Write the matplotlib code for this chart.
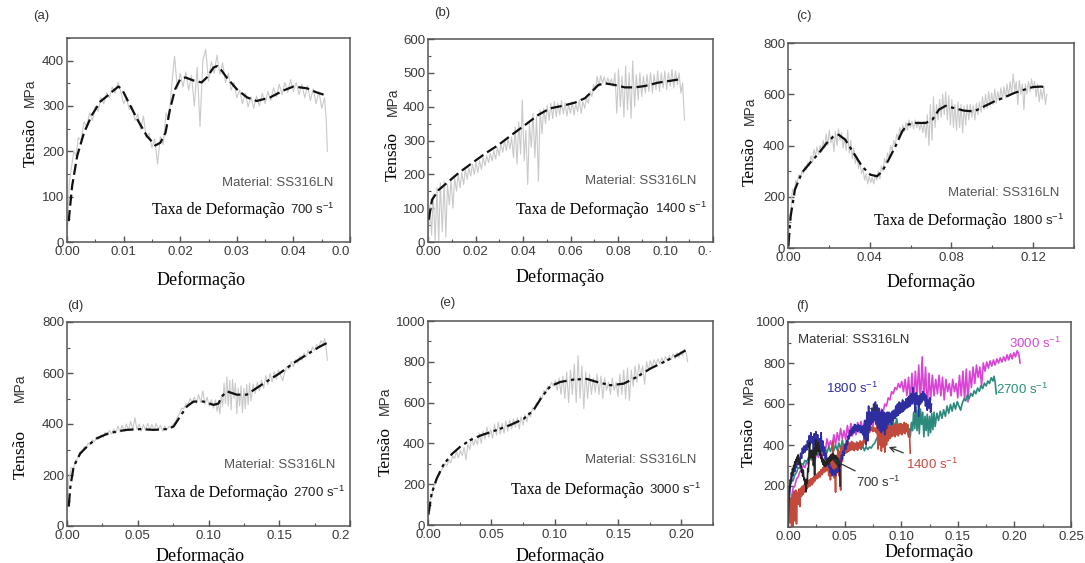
import matplotlib
matplotlib.use("Agg")
import matplotlib.pyplot as plt
from matplotlib.ticker import MultipleLocator, FixedLocator

SANS = "Liberation Sans"
SERIF = "Liberation Serif"
plt.rcParams['font.family'] = SANS
plt.rcParams['mathtext.fontset'] = 'custom'
plt.rcParams['mathtext.rm'] = SANS
plt.rcParams['mathtext.it'] = SANS
plt.rcParams['mathtext.default'] = 'regular'

W, H = 1085, 563

# ---- raw (noisy) stress-strain curves: (strain, MPa)
raw_700 = [(0.0000, 0), (0.0004, 130), (0.0008, 165), (0.0012, 200), (0.0016, 190), (0.0020, 230),
           (0.0025, 225), (0.0030, 265), (0.0035, 255), (0.0040, 285), (0.0045, 268), (0.0050, 300),
           (0.0055, 288), (0.0060, 318), (0.0065, 305), (0.0070, 330), (0.0075, 318), (0.0080, 342),
           (0.0085, 328), (0.0090, 352), (0.0095, 332), (0.0100, 305), (0.0105, 318), (0.0110, 292),
           (0.0115, 300), (0.0120, 268), (0.0125, 282), (0.0130, 248), (0.0135, 278), (0.0140, 230),
           (0.0145, 240), (0.0150, 208), (0.0155, 228), (0.0160, 172), (0.0165, 232), (0.0170, 215),
           (0.0175, 285), (0.0180, 270), (0.0185, 345), (0.0190, 410), (0.0195, 338), (0.0200, 372),
           (0.0205, 342), (0.0210, 375), (0.0215, 335), (0.0220, 368), (0.0225, 300), (0.0230, 385),
           (0.0235, 255), (0.0240, 400), (0.0245, 425), (0.0250, 355), (0.0255, 398), (0.0260, 372),
           (0.0265, 412), (0.0270, 370), (0.0275, 395), (0.0280, 352), (0.0285, 372), (0.0290, 335),
           (0.0295, 352), (0.0300, 318), (0.0305, 335), (0.0310, 305), (0.0315, 328), (0.0320, 298),
           (0.0325, 320), (0.0330, 295), (0.0335, 322), (0.0340, 300), (0.0345, 328), (0.0350, 305),
           (0.0355, 332), (0.0360, 312), (0.0365, 340), (0.0370, 320), (0.0375, 348), (0.0380, 325),
           (0.0385, 352), (0.0390, 330), (0.0395, 358), (0.0400, 332), (0.0405, 352), (0.0410, 325),
           (0.0415, 348), (0.0420, 318), (0.0425, 345), (0.0430, 312), (0.0435, 338), (0.0440, 305),
           (0.0445, 332), (0.0450, 295), (0.0455, 318), (0.0458, 270), (0.0460, 200)]

raw_1400 = [(0.0000, 0), (0.0008, 110), (0.0015, 20), (0.0022, 140), (0.0030, 5), (0.0038, 160),
            (0.0045, 0), (0.0052, 175), (0.0060, 30), (0.0068, 180), (0.0075, 15), (0.0082, 170),
            (0.0090, 110), (0.0097, 185), (0.0105, 100), (0.0112, 190), (0.0120, 150), (0.0127, 200),
            (0.0135, 160), (0.0142, 205), (0.0150, 170), (0.0157, 215), (0.0165, 185), (0.0172, 220),
            (0.0180, 195), (0.0187, 230), (0.0195, 200), (0.0202, 235), (0.0210, 205), (0.0217, 240),
            (0.0225, 215), (0.0232, 250), (0.0240, 225), (0.0247, 255), (0.0255, 235), (0.0262, 262),
            (0.0270, 240), (0.0277, 270), (0.0285, 245), (0.0292, 280), (0.0300, 255), (0.0307, 290),
            (0.0315, 265), (0.0322, 300), (0.0330, 270), (0.0337, 305), (0.0345, 275), (0.0352, 310),
            (0.0360, 250), (0.0367, 340), (0.0375, 230), (0.0382, 355), (0.0390, 260), (0.0397, 420),
            (0.0405, 240), (0.0412, 330), (0.0420, 170), (0.0427, 350), (0.0435, 280), (0.0442, 380),
            (0.0450, 250), (0.0457, 370), (0.0465, 180), (0.0472, 390), (0.0480, 320), (0.0487, 395),
            (0.0495, 350), (0.0502, 405), (0.0510, 360), (0.0517, 410), (0.0525, 365), (0.0532, 415),
            (0.0540, 370), (0.0547, 410), (0.0555, 375), (0.0562, 418), (0.0570, 378), (0.0577, 412),
            (0.0585, 372), (0.0592, 408), (0.0600, 380), (0.0607, 415), (0.0615, 375), (0.0622, 410),
            (0.0630, 385), (0.0637, 420), (0.0645, 380), (0.0652, 415), (0.0660, 395), (0.0667, 425),
            (0.0675, 410), (0.0682, 445), (0.0690, 430), (0.0697, 465), (0.0705, 450), (0.0712, 490),
            (0.0720, 460), (0.0727, 492), (0.0735, 470), (0.0742, 488), (0.0750, 465), (0.0757, 485),
            (0.0765, 468), (0.0772, 482), (0.0780, 460), (0.0787, 500), (0.0795, 380), (0.0802, 510),
            (0.0810, 400), (0.0817, 490), (0.0825, 370), (0.0832, 520), (0.0840, 390), (0.0847, 500),
            (0.0855, 365), (0.0862, 535), (0.0870, 400), (0.0877, 495), (0.0885, 420), (0.0892, 500),
            (0.0900, 430), (0.0907, 490), (0.0915, 440), (0.0922, 495), (0.0930, 445), (0.0937, 500),
            (0.0945, 440), (0.0952, 495), (0.0960, 450), (0.0967, 505), (0.0975, 445), (0.0982, 500),
            (0.0990, 455), (0.0997, 505), (0.1005, 450), (0.1012, 500), (0.1020, 460), (0.1027, 510),
            (0.1035, 455), (0.1042, 505), (0.1050, 465), (0.1057, 500), (0.1065, 440), (0.1072, 470),
            (0.1080, 360)]

raw_1800 = [(0.0000, 0), (0.0008, 120), (0.0015, 160), (0.0022, 230), (0.0030, 215), (0.0038, 265),
            (0.0045, 250), (0.0052, 285), (0.0060, 270), (0.0068, 300), (0.0075, 290), (0.0082, 318),
            (0.0090, 305), (0.0097, 335), (0.0105, 320), (0.0112, 360), (0.0120, 335), (0.0127, 385),
            (0.0135, 360), (0.0142, 395), (0.0150, 365), (0.0157, 400), (0.0165, 375), (0.0172, 420),
            (0.0180, 390), (0.0187, 445), (0.0195, 400), (0.0202, 460), (0.0210, 410), (0.0217, 440),
            (0.0225, 375), (0.0232, 455), (0.0240, 400), (0.0247, 465), (0.0255, 420), (0.0262, 450),
            (0.0270, 390), (0.0277, 430), (0.0285, 380), (0.0292, 460), (0.0300, 370), (0.0307, 420),
            (0.0315, 350), (0.0322, 390), (0.0330, 330), (0.0337, 360), (0.0345, 310), (0.0352, 335),
            (0.0360, 290), (0.0367, 310), (0.0375, 265), (0.0382, 290), (0.0390, 250), (0.0397, 280),
            (0.0405, 255), (0.0412, 275), (0.0420, 250), (0.0427, 285), (0.0435, 265), (0.0442, 300),
            (0.0450, 270), (0.0457, 320), (0.0465, 300), (0.0472, 350), (0.0480, 330), (0.0487, 370),
            (0.0495, 350), (0.0502, 400), (0.0510, 380), (0.0517, 420), (0.0525, 400), (0.0532, 445),
            (0.0540, 430), (0.0547, 470), (0.0555, 445), (0.0562, 480), (0.0570, 455), (0.0577, 490),
            (0.0585, 460), (0.0592, 500), (0.0600, 470), (0.0607, 495), (0.0615, 465), (0.0622, 500),
            (0.0630, 470), (0.0637, 495), (0.0645, 460), (0.0652, 490), (0.0660, 450), (0.0667, 495),
            (0.0675, 430), (0.0682, 520), (0.0690, 400), (0.0697, 560), (0.0705, 420), (0.0712, 590),
            (0.0720, 470), (0.0727, 560), (0.0735, 500), (0.0742, 580), (0.0750, 510), (0.0757, 600),
            (0.0765, 520), (0.0772, 610), (0.0780, 500), (0.0787, 595), (0.0795, 480), (0.0802, 580),
            (0.0810, 470), (0.0817, 560), (0.0825, 460), (0.0832, 570), (0.0840, 470), (0.0847, 560),
            (0.0855, 450), (0.0862, 555), (0.0870, 480), (0.0877, 560), (0.0885, 500), (0.0892, 560),
            (0.0900, 510), (0.0907, 555), (0.0915, 500), (0.0922, 565), (0.0930, 520), (0.0937, 570),
            (0.0945, 530), (0.0952, 590), (0.0960, 540), (0.0967, 600), (0.0975, 545), (0.0982, 610),
            (0.0990, 555), (0.0997, 605), (0.1005, 560), (0.1012, 620), (0.1020, 565), (0.1027, 610),
            (0.1035, 575), (0.1042, 625), (0.1050, 580), (0.1057, 630), (0.1065, 585), (0.1072, 640),
            (0.1080, 590), (0.1087, 650), (0.1095, 600), (0.1102, 680), (0.1110, 610), (0.1117, 650),
            (0.1125, 560), (0.1132, 655), (0.1140, 600), (0.1147, 640), (0.1155, 540), (0.1162, 640),
            (0.1170, 600), (0.1177, 650), (0.1185, 610), (0.1192, 660), (0.1200, 620), (0.1207, 650),
            (0.1215, 590), (0.1222, 640), (0.1230, 570), (0.1237, 620), (0.1245, 580), (0.1252, 630),
            (0.1260, 560), (0.1267, 600)]

raw_2700 = [(0.0000, 60), (0.0010, 170), (0.0020, 200), (0.0030, 230), (0.0045, 225), (0.0060, 255),
            (0.0075, 265), (0.0090, 290), (0.0105, 285), (0.0120, 310), (0.0135, 305), (0.0150, 325),
            (0.0165, 318), (0.0180, 338), (0.0195, 330), (0.0210, 350), (0.0225, 340), (0.0240, 358),
            (0.0255, 348), (0.0270, 368), (0.0285, 355), (0.0300, 375), (0.0315, 360), (0.0330, 380),
            (0.0345, 362), (0.0360, 392), (0.0375, 368), (0.0390, 395), (0.0405, 372), (0.0420, 400),
            (0.0435, 375), (0.0450, 410), (0.0465, 378), (0.0480, 425), (0.0495, 378), (0.0510, 400),
            (0.0525, 372), (0.0540, 398), (0.0555, 376), (0.0570, 402), (0.0585, 378), (0.0600, 398),
            (0.0615, 375), (0.0630, 402), (0.0645, 378), (0.0660, 395), (0.0675, 372), (0.0690, 392),
            (0.0705, 378), (0.0720, 390), (0.0735, 385), (0.0750, 400), (0.0765, 408), (0.0780, 428),
            (0.0795, 440), (0.0810, 462), (0.0825, 460), (0.0840, 480), (0.0855, 478), (0.0870, 500),
            (0.0885, 485), (0.0900, 505), (0.0915, 482), (0.0930, 515), (0.0945, 485), (0.0960, 530),
            (0.0975, 478), (0.0990, 505), (0.1005, 470), (0.1020, 495), (0.1035, 462), (0.1050, 495),
            (0.1060, 450), (0.1070, 480), (0.1080, 440), (0.1090, 510), (0.1100, 470), (0.1110, 560),
            (0.1120, 480), (0.1130, 585), (0.1140, 470), (0.1150, 570), (0.1160, 455), (0.1170, 575),
            (0.1180, 500), (0.1190, 560), (0.1200, 440), (0.1210, 540), (0.1220, 470), (0.1230, 550),
            (0.1240, 445), (0.1250, 540), (0.1260, 460), (0.1270, 555), (0.1280, 475), (0.1290, 560),
            (0.1300, 490), (0.1315, 555), (0.1330, 520), (0.1345, 565), (0.1360, 530), (0.1375, 572),
            (0.1390, 540), (0.1405, 590), (0.1420, 555), (0.1435, 598), (0.1450, 565), (0.1465, 605),
            (0.1480, 575), (0.1495, 612), (0.1510, 590), (0.1525, 570), (0.1540, 605), (0.1555, 625),
            (0.1570, 615), (0.1585, 645), (0.1600, 625), (0.1615, 652), (0.1630, 638), (0.1645, 665),
            (0.1660, 650), (0.1675, 678), (0.1690, 662), (0.1705, 690), (0.1720, 675), (0.1735, 702),
            (0.1750, 688), (0.1765, 712), (0.1780, 700), (0.1795, 728), (0.1810, 712), (0.1820, 735),
            (0.1830, 705), (0.1840, 650)]

raw_3000 = [(0.0000, 30), (0.0015, 120), (0.0030, 140), (0.0045, 190), (0.0060, 200), (0.0075, 235),
            (0.0090, 245), (0.0105, 270), (0.0120, 280), (0.0135, 300), (0.0150, 290), (0.0165, 320),
            (0.0180, 305), (0.0195, 340), (0.0210, 325), (0.0225, 360), (0.0240, 330), (0.0255, 365),
            (0.0270, 340), (0.0285, 380), (0.0300, 320), (0.0315, 395), (0.0330, 370), (0.0345, 430),
            (0.0360, 390), (0.0375, 420), (0.0390, 395), (0.0405, 450), (0.0420, 400), (0.0435, 460),
            (0.0450, 420), (0.0465, 480), (0.0480, 430), (0.0495, 470), (0.0510, 425), (0.0525, 495),
            (0.0540, 440), (0.0555, 505), (0.0570, 445), (0.0585, 500), (0.0600, 450), (0.0615, 510),
            (0.0630, 460), (0.0645, 515), (0.0660, 470), (0.0675, 520), (0.0690, 480), (0.0705, 525),
            (0.0720, 470), (0.0735, 530), (0.0750, 490), (0.0765, 540), (0.0780, 505), (0.0795, 550),
            (0.0810, 530), (0.0825, 575), (0.0840, 560), (0.0855, 600), (0.0870, 590), (0.0885, 630),
            (0.0900, 620), (0.0915, 660), (0.0930, 650), (0.0945, 680), (0.0960, 670), (0.0975, 700),
            (0.0990, 680), (0.1005, 710), (0.1020, 660), (0.1035, 720), (0.1050, 640), (0.1065, 730),
            (0.1080, 620), (0.1095, 750), (0.1110, 600), (0.1125, 760), (0.1140, 640), (0.1155, 790),
            (0.1170, 600), (0.1185, 830), (0.1200, 620), (0.1215, 780), (0.1230, 570), (0.1245, 750),
            (0.1260, 620), (0.1275, 740), (0.1290, 640), (0.1305, 720), (0.1320, 650), (0.1335, 740),
            (0.1350, 640), (0.1365, 730), (0.1380, 620), (0.1395, 720), (0.1410, 660), (0.1425, 700),
            (0.1440, 640), (0.1455, 720), (0.1470, 660), (0.1485, 700), (0.1500, 630), (0.1515, 740),
            (0.1530, 640), (0.1545, 760), (0.1560, 620), (0.1575, 770), (0.1590, 610), (0.1605, 760),
            (0.1620, 680), (0.1635, 780), (0.1650, 700), (0.1665, 790), (0.1680, 730), (0.1695, 780),
            (0.1710, 690), (0.1725, 800), (0.1740, 760), (0.1755, 805), (0.1770, 775), (0.1785, 810),
            (0.1800, 785), (0.1815, 815), (0.1830, 790), (0.1845, 820), (0.1860, 800), (0.1875, 825),
            (0.1890, 805), (0.1905, 830), (0.1920, 810), (0.1935, 840), (0.1950, 815), (0.1965, 845),
            (0.1980, 820), (0.1995, 850), (0.2010, 830), (0.2025, 860), (0.2040, 840), (0.2050, 800)]

# ---- fitted (smoothed) curves
fit_700 = [(0.0003, 46), (0.0009, 123), (0.0018, 190), (0.0030, 241), (0.0044, 280), (0.0059, 310),
           (0.0071, 322), (0.0082, 334), (0.0091, 343), (0.0098, 335), (0.0106, 315), (0.0124, 271),
           (0.0141, 234), (0.0156, 213), (0.0165, 219), (0.0174, 241), (0.0182, 293), (0.0191, 337),
           (0.0200, 359), (0.0209, 363), (0.0224, 356), (0.0238, 352), (0.0247, 363), (0.0259, 385),
           (0.0265, 388), (0.0271, 382), (0.0282, 363), (0.0300, 337), (0.0318, 319), (0.0335, 311),
           (0.0359, 319), (0.0382, 334), (0.0400, 343), (0.0424, 339), (0.0441, 330), (0.0456, 324)]

fit_1400 = [(0.0003, 66), (0.0017, 125), (0.0045, 154), (0.0087, 179), (0.0129, 204), (0.0185, 233),
            (0.0240, 261), (0.0297, 287), (0.0353, 317), (0.0409, 346), (0.0465, 376), (0.0514, 395),
            (0.0563, 402), (0.0619, 412), (0.0661, 425), (0.0689, 444), (0.0717, 464), (0.0745, 469),
            (0.0787, 464), (0.0829, 457), (0.0871, 457), (0.0913, 461), (0.0969, 471), (0.1025, 477),
            (0.1060, 481)]

fit_1800 = [(0.0002, 7), (0.0013, 124), (0.0034, 228), (0.0067, 293), (0.0108, 332), (0.0149, 368),
            (0.0190, 410), (0.0223, 436), (0.0248, 442), (0.0280, 423), (0.0321, 371), (0.0362, 319),
            (0.0403, 286), (0.0436, 280), (0.0461, 299), (0.0493, 345), (0.0526, 397), (0.0559, 455),
            (0.0584, 481), (0.0625, 488), (0.0674, 488), (0.0707, 501), (0.0739, 540), (0.0772, 555),
            (0.0813, 546), (0.0862, 536), (0.0911, 533), (0.0961, 553), (0.1010, 572), (0.1059, 588),
            (0.1108, 605), (0.1157, 618), (0.1198, 628), (0.1240, 630), (0.1265, 626)]

fit_2700 = [(0.0012, 76), (0.0024, 155), (0.0047, 233), (0.0094, 285), (0.0153, 318), (0.0212, 344),
            (0.0282, 361), (0.0353, 371), (0.0424, 377), (0.0518, 380), (0.0612, 377), (0.0706, 380),
            (0.0753, 390), (0.0800, 430), (0.0847, 469), (0.0894, 488), (0.0965, 488), (0.1035, 475),
            (0.1070, 480), (0.1094, 508), (0.1130, 528), (0.1200, 515), (0.1270, 515), (0.1340, 541),
            (0.1412, 567), (0.1506, 600), (0.1600, 639), (0.1694, 672), (0.1788, 704), (0.1835, 717)]

fit_3000 = [(0.0003, 50), (0.0029, 155), (0.0069, 228), (0.0121, 294), (0.0187, 347), (0.0253, 383),
            (0.0332, 416), (0.0420, 440), (0.0517, 460), (0.0649, 490), (0.0754, 520), (0.0833, 563),
            (0.0899, 628), (0.0965, 680), (0.1044, 701), (0.1150, 713), (0.1255, 716), (0.1334, 701),
            (0.1440, 685), (0.1545, 693), (0.1650, 726), (0.1756, 767), (0.1862, 799), (0.1967, 832),
            (0.2033, 856)]

rates = ["700", "1400", "1800", "2700", "3000"]
raws = [raw_700, raw_1400, raw_1800, raw_2700, raw_3000]
fits = [fit_700, fit_1400, fit_1800, fit_2700, fit_3000]
panel_tags = ["(a)", "(b)", "(c)", "(d)", "(e)"]
rate_colors = ["#222222", "#c24a3c", "#2e2ea0", "#2b8a7c", "#d844d4"]

# axes boxes in pixels (x0, y0, x1, y1) and scales
boxes = [(67, 38, 350, 242), (428, 39, 713, 242), (788, 43, 1074, 248),
         (67, 322, 350, 526), (428, 321, 713, 525), (788, 322, 1071, 527)]
x_ticks = [[0, 0.01, 0.02, 0.03, 0.04, 0.05], [0, 0.02, 0.04, 0.06, 0.08, 0.10, 0.12],
           [0, 0.04, 0.08, 0.12], [0, 0.05, 0.10, 0.15, 0.20], [0, 0.05, 0.10, 0.15, 0.20],
           [0, 0.05, 0.10, 0.15, 0.20, 0.25]]
x_labels = [["0.00", "0.01", "0.02", "0.03", "0.04", "0.0"],
            ["0.00", "0.02", "0.04", "0.06", "0.08", "0.10", "0.·"],
            ["0.00", "0.04", "0.08", "0.12"],
            ["0.00", "0.05", "0.10", "0.15", "0.2"],
            ["0.00", "0.05", "0.10", "0.15", "0.20"],
            ["0.00", "0.05", "0.10", "0.15", "0.20", "0.25"]]
x_max = [0.05, 0.12, 0.14, 0.2, 0.225, 0.25]
x_minor = [0.005, 0.01, 0.02, 0.025, 0.025, 0.025]
y_max = [450, 600, 800, 800, 1000, 1000]
y_major = [100, 100, 200, 200, 200, 200]
y_minor = [50, 50, 100, 100, 100, 100]
fit_dashes = [(5, 2), (5, 2), (6, 2, 1.5, 2), (6, 2, 1.5, 2), (6, 2, 1.5, 1.5, 1.5, 2)]

# text positions (axes fractions)
ylab_pos = [(-0.13, 0.49, 0.73), (-0.125, 0.42, 0.69), (-0.135, 0.42, 0.67),
            (-0.165, 0.35, 0.68), (-0.15, 0.36, 0.61), (-0.14, 0.41, 0.67)]
xlab_pos = [(0.473, -0.186), (0.463, -0.172), (0.50, -0.166), (0.47, -0.147), (0.463, -0.152), (0.50, -0.122)]
tag_pos = [(-0.12, 1.11), (0.02, 1.13), (0.03, 1.13), (0.0, 1.08), (0.04, 1.09), (0.03, 1.08)]
mat_pos = [(0.94, 0.29), (0.94, 0.30), (0.95, 0.27), (0.95, 0.30), (0.94, 0.32)]
taxa_pos = [(0.30, 0.157), (0.31, 0.16), (0.30, 0.13), (0.31, 0.16), (0.29, 0.17)]

fig = plt.figure(figsize=(W / 100, H / 100), dpi=100)
axes = []
for i, (x0, y0, x1, y1) in enumerate(boxes):
    ax = fig.add_axes([x0 / W, 1 - y1 / H, (x1 - x0) / W, (y1 - y0) / H])
    ax.set_xlim(0, x_max[i])
    ax.set_ylim(0, y_max[i])
    ax.xaxis.set_major_locator(FixedLocator(x_ticks[i]))
    ax.set_xticklabels(x_labels[i])
    ax.xaxis.set_minor_locator(MultipleLocator(x_minor[i]))
    if i == 5:
        ax.yaxis.set_major_locator(FixedLocator([200, 400, 600, 800, 1000]))
    else:
        ax.yaxis.set_major_locator(MultipleLocator(y_major[i]))
    ax.yaxis.set_minor_locator(MultipleLocator(y_minor[i]))
    ax.tick_params(which='both', direction='in', top=False, right=False,
                   labelsize=9.5, labelcolor='#3a3a3a', color='#555555')
    ax.tick_params(axis='x', pad=3)
    ax.tick_params(axis='y', pad=2)
    ax.tick_params(which='major', length=4, width=1)
    ax.tick_params(which='minor', length=2.5, width=0.8)
    for sp in ax.spines.values():
        sp.set_color('#555555')
        sp.set_linewidth(1.1)
    # cropped last x label
    if i in (0, 1, 3):
        ax.get_xticklabels()[-1].set_horizontalalignment('right')
    # the "0" sits just above the corner
    if i < 5:
        ax.get_yticklabels()[0].set_verticalalignment('bottom')

    xl, yt, ym = ylab_pos[i]
    ax.text(xl, yt, "Tensão", transform=ax.transAxes, rotation=90, family=SERIF,
            fontsize=12.5, ha='center', va='center')
    ax.text(xl, ym, "MPa", transform=ax.transAxes, rotation=90, family=SANS,
            fontsize=10, ha='center', va='center', color='#333333')
    ax.text(xlab_pos[i][0], xlab_pos[i][1], "Deformação", transform=ax.transAxes,
            family=SERIF, fontsize=13, ha='center', va='center')
    axes.append(ax)

for i in range(5):
    ax = axes[i]
    rx, ry = zip(*raws[i])
    fx, fy = zip(*fits[i])
    ax.plot(rx, ry, color='#c9c9c9', lw=0.8)
    ax.plot(fx, fy, color='#111111', lw=1.6, dashes=fit_dashes[i])
    ax.text(tag_pos[i][0], tag_pos[i][1], panel_tags[i], transform=ax.transAxes,
            fontsize=9.5, color='#333333', ha='left', va='center')
    ax.text(mat_pos[i][0], mat_pos[i][1], "Material: SS316LN", transform=ax.transAxes,
            fontsize=9.5, color='#555555', ha='right', va='center')
    t = ax.text(taxa_pos[i][0], taxa_pos[i][1], "Taxa de Deformação", transform=ax.transAxes,
                family=SERIF, fontsize=11.5, ha='left', va='center')
    ax.annotate(rates[i] + " s$^{-1}$", xy=(1, 0), xycoords=t, xytext=(4, 1),
                textcoords='offset points', fontsize=9.5, color='#222222', ha='left', va='bottom')

# (f) all rates together
ax = axes[5]
for k in [4, 3, 1, 2, 0]:
    rx, ry = zip(*raws[k])
    ax.plot(rx, ry, color=rate_colors[k], lw=1.2)
ax.text(tag_pos[5][0], tag_pos[5][1], "(f)", transform=ax.transAxes,
        fontsize=9.5, color='#333333', ha='left', va='center')
ax.text(0.035, 0.91, "Material: SS316LN", transform=ax.transAxes,
        fontsize=9.5, color='#333333', ha='left', va='center')
ax.text(0.218, 895, "3000 s$^{-1}$", color=rate_colors[4], fontsize=9.5, ha='center', va='center')
ax.text(0.184, 672, "2700 s$^{-1}$", color=rate_colors[3], fontsize=9.5, ha='left', va='center')
ax.annotate("1800 s$^{-1}$", xy=(0.079, 565), xytext=(0.034, 676), color=rate_colors[2],
            fontsize=9.5, ha='left', va='center',
            arrowprops=dict(arrowstyle='->', color='#333333', lw=0.9, shrinkA=12, shrinkB=0))
ax.annotate("1400 s$^{-1}$", xy=(0.089, 390), xytext=(0.104, 306), color=rate_colors[1],
            fontsize=9.5, ha='left', va='center',
            arrowprops=dict(arrowstyle='->', color='#333333', lw=0.9, shrinkA=2, shrinkB=0))
ax.annotate("700 s$^{-1}$", xy=(0.039, 330), xytext=(0.060, 217), color='#333333',
            fontsize=9.5, ha='left', va='center',
            arrowprops=dict(arrowstyle='->', color='#333333', lw=0.9, shrinkA=2, shrinkB=0))

fig.savefig("out.png", dpi=100)
